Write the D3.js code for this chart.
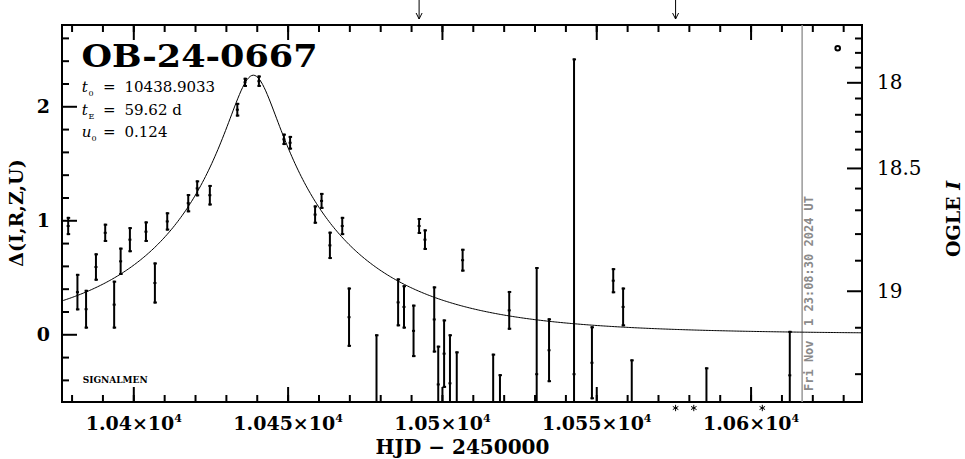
<!DOCTYPE html>
<html><head><meta charset="utf-8">
<script src="https://cdn.jsdelivr.net/npm/d3@7"></script>
<style>body{margin:0;background:#fff}svg{display:block}</style>
</head><body><svg id="c" width="965" height="459"></svg>
<script>
// ---- data ----
const hjd = [10378.9,10381.9,10384.7,10387.9,10390.9,10393.8,10395.9,10398.9,10404.1,10407.0,
  10411.0,10417.8,10420.7,10424.8,10433.7,10436.2,10440.7,10448.8,10450.8,10458.9,
  10461.0,10463.7,10467.7,10469.9,10478.8,10485.8,10487.7,10490.8,10492.6,10494.5,
  10497.5,10498.8,10500.7,10502.6,10504.8,10506.7,10516.6,10518.8,10521.8,10530.7,
  10534.7,10542.8,10548.6,10555.5,10558.7,10561.5,10585.7,10612.7];
const delta = [0.95,0.37,0.22,0.59,0.89,0.26,0.64,0.83,0.90,0.45,
  0.99,1.15,1.28,1.22,1.97,2.21,2.22,1.71,1.68,1.05,
  1.17,0.78,0.95,0.15,-0.70,0.28,0.24,0.03,0.95,0.83,
  0.13,-0.44,-0.17,-0.43,-0.60,0.65,-0.70,-0.75,0.21,-0.35,
  -0.14,-0.35,-0.25,0.47,0.24,-0.60,-0.65,-0.36];
const err = [0.08,0.16,0.17,0.12,0.08,0.21,0.12,0.11,0.09,0.18,
  0.08,0.08,0.07,0.09,0.06,0.04,0.05,0.05,0.06,0.08,
  0.07,0.12,0.08,0.26,0.70,0.21,0.19,0.23,0.07,0.09,
  0.29,0.34,0.30,0.43,0.45,0.10,0.53,0.40,0.17,0.94,
  0.28,2.77,0.32,0.11,0.17,0.38,0.36,0.39];
const starMarks = [10575.7, 10581.6, 10603.8];
const arrowMarks = [10492.6, 10575.7];
const nowHJD = 10616.7;
const xMajor = [10400, 10450, 10500, 10550, 10600];
const xMinor = d3.range(10380, 10640, 10);
const yMajor = [0, 1, 2];
const yMinor = [-0.4,-0.2,0.2,0.4,0.6,0.8,1.2,1.4,1.6,1.8,2.2,2.4,2.6];
const magMajor = [18, 18.5, 19];
const magMinor = [17.7,17.8,17.9,18.1,18.2,18.3,18.4,18.6,18.7,18.8,18.9,19.1,19.2];
const t0 = 10438.9033, tE = 59.62, u0 = 0.124;
const baseMag = 19.117, srcFrac = 0.27;
const stamp = "Fri Nov  1 23:08:30 2024 UT";

// ---- scales ----
const L = 62, R = 862, T = 25, B = 402;
const x = d3.scaleLinear().domain([10376.9, 10636.1]).range([L, R]);
const y = d3.scaleLinear().domain([-0.594, 2.713]).range([B, T]);
function magToDelta(m){
  const r = Math.pow(10, -0.4*(m - baseMag));
  return 2.5*Math.log10((r - (1 - srcFrac))/srcFrac);
}
const ymag = m => y(magToDelta(m));
ymag.copy = () => ymag;
ymag.range = () => y.range();

const svg = d3.select("#c");
const serif = "DejaVu Serif";
svg.append("defs").append("clipPath").attr("id","clip")
  .append("rect").attr("x",L).attr("y",T).attr("width",R-L).attr("height",B-T);

function styleAxis(g){
  g.select(".domain").remove();
  g.selectAll(".tick line").attr("stroke","#000").attr("stroke-width",2);
}
// bottom
svg.append("g").attr("transform",`translate(0,${B})`)
  .call(d3.axisBottom(x).tickValues(xMinor).tickSize(-7).tickFormat("")).call(styleAxis);
const xb = svg.append("g").attr("transform",`translate(0,${B})`)
  .call(d3.axisBottom(x).tickValues(xMajor).tickSize(-15).tickPadding(0)).call(styleAxis);
xb.selectAll(".tick text").each(function(d){
  const t = d3.select(this);
  t.text(null).attr("y",28).attr("dy",0).attr("font-family",serif).attr("font-weight","bold")
    .attr("font-size",19).attr("fill","#000");
  t.append("tspan").text((d/1e4) + "×10");
  t.append("tspan").text("4").attr("font-size",11).attr("dy",-8);
});
// top
svg.append("g").attr("transform",`translate(0,${T})`)
  .call(d3.axisTop(x).tickValues(xMinor).tickSize(-7).tickFormat("")).call(styleAxis);
svg.append("g").attr("transform",`translate(0,${T})`)
  .call(d3.axisTop(x).tickValues(xMajor).tickSize(-15).tickFormat("")).call(styleAxis);
// left
svg.append("g").attr("transform",`translate(${L},0)`)
  .call(d3.axisLeft(y).tickValues(yMinor).tickSize(-7).tickFormat("")).call(styleAxis);
const yl = svg.append("g").attr("transform",`translate(${L},0)`)
  .call(d3.axisLeft(y).tickValues(yMajor).tickSize(-15).tickPadding(12).tickFormat(d3.format("d"))).call(styleAxis);
yl.selectAll(".tick text").attr("font-family",serif).attr("font-weight","bold").attr("font-size",19).attr("fill","#000");
// right (magnitude)
svg.append("g").attr("transform",`translate(${R},0)`)
  .call(d3.axisRight(ymag).tickValues(magMinor).tickSize(-7).tickFormat("")).call(styleAxis);
const yr = svg.append("g").attr("transform",`translate(${R},0)`)
  .call(d3.axisRight(ymag).tickValues(magMajor).tickSize(-15).tickPadding(15).tickFormat(d => String(d))).call(styleAxis);
yr.selectAll(".tick text").attr("font-family",serif).attr("font-size",20).attr("fill","#000");

// frame
svg.append("rect").attr("x",L).attr("y",T).attr("width",R-L).attr("height",B-T)
  .attr("fill","none").attr("stroke","#000").attr("stroke-width",2);

// timestamp line
svg.append("line").attr("x1",x(nowHJD)).attr("x2",x(nowHJD)).attr("y1",T).attr("y2",B)
  .attr("stroke","#999").attr("stroke-width",1.5);
svg.append("text").attr("transform",`translate(${x(nowHJD)+11.2},391) rotate(-90)`)
  .attr("font-family","DejaVu Sans Mono").attr("font-weight","bold").attr("font-size",12)
  .attr("fill","#8a8a8a").attr("xml:space","preserve").style("white-space","pre").text(stamp);

// model curve
const tt = d3.range(10376.9, 10636.2, 0.5);
function magn(t){ const tau=(t-t0)/tE; const u=Math.sqrt(u0*u0+tau*tau); return (u*u+2)/(u*Math.sqrt(u*u+4)); }
const plot = svg.append("g").attr("clip-path","url(#clip)");
plot.append("path").datum(tt)
  .attr("d", d3.line().x(t => x(t)).y(t => y(2.5*Math.log10(magn(t)))))
  .attr("fill","none").attr("stroke","#000").attr("stroke-width",1);

// error bars
const idx = d3.range(hjd.length);
const eb = plot.selectAll("g.eb").data(idx).join("g").attr("class","eb");
eb.append("line").attr("x1",i=>x(hjd[i])).attr("x2",i=>x(hjd[i]))
  .attr("y1",i=>y(delta[i]+err[i])).attr("y2",i=>y(delta[i]-err[i]))
  .attr("stroke","#000").attr("stroke-width",2);
eb.append("line").attr("x1",i=>x(hjd[i])-1.5).attr("x2",i=>x(hjd[i])+2)
  .attr("y1",i=>y(delta[i]+err[i])+1).attr("y2",i=>y(delta[i]+err[i])+1)
  .attr("stroke","#000").attr("stroke-width",2);
eb.append("line").attr("x1",i=>x(hjd[i])-1.5).attr("x2",i=>x(hjd[i])+2)
  .attr("y1",i=>y(delta[i]-err[i])-1).attr("y2",i=>y(delta[i]-err[i])-1)
  .attr("stroke","#000").attr("stroke-width",2);
eb.append("rect").attr("x",i=>x(hjd[i])-1.5).attr("y",i=>y(delta[i])-1)
  .attr("width",3).attr("height",2).attr("fill","#000");

// asterisks below axis
svg.selectAll("path.star").data(starMarks).join("path").attr("class","star")
  .attr("d", d3.symbol(d3.symbolAsterisk, 28))
  .attr("transform", d => `translate(${x(d)},408)`)
  .attr("fill","none").attr("stroke","#000").attr("stroke-width",1);

// arrows on top
const ar = svg.selectAll("g.arrow").data(arrowMarks).join("g").attr("class","arrow");
ar.append("line").attr("x1",d=>x(d)).attr("x2",d=>x(d)).attr("y1",0).attr("y2",19)
  .attr("stroke","#000").attr("stroke-width",1);
ar.append("path").attr("d",d=>`M${x(d)-3},13L${x(d)},19L${x(d)+3},13`)
  .attr("fill","none").attr("stroke","#000").attr("stroke-width",1);

// small circle marker
svg.append("circle").attr("cx",837.7).attr("cy",48.3).attr("r",2.3)
  .attr("fill","none").attr("stroke","#000").attr("stroke-width",2);

// titles
svg.append("text").attr("x",81.5).attr("y",66.7).attr("font-family",serif).attr("font-weight","bold")
  .attr("font-size",32).attr("textLength",236).attr("lengthAdjust","spacingAndGlyphs").text("OB-24-0667");
const params = [["t","0","10438.9033",91.7,88.5],["t","E","59.62 d",115,88.5],["u","0","0.124",136.7,91.5]];
params.forEach(p => {
  const t = svg.append("text").attr("y",p[3]).attr("font-family",serif)
    .attr("font-size",15).attr("fill","#000");
  t.append("tspan").attr("x",81.7).attr("font-style","italic").text(p[0]);
  t.append("tspan").attr("x",p[4]).attr("font-size",8).attr("dy",4).text(p[1]);
  t.append("tspan").attr("x",103).attr("dy",-4).text("=");
  t.append("tspan").attr("x",124.5).text(p[2]);
});
svg.append("text").attr("x",82.7).attr("y",383.3).attr("font-family",serif).attr("font-weight","bold")
  .attr("font-size",9).text("SIGNALMEN");
svg.append("text").attr("x",462.5).attr("y",454).attr("text-anchor","middle")
  .attr("font-family",serif).attr("font-weight","bold").attr("font-size",20).text("HJD − 2450000");
svg.append("text").attr("transform","translate(23,213) rotate(-90)").attr("text-anchor","middle")
  .attr("font-family",serif).attr("font-weight","bold").attr("font-size",19).text("Δ(I,R,Z,U)");
const og = svg.append("text").attr("transform","translate(960,219) rotate(-90)").attr("text-anchor","middle")
  .attr("font-family",serif).attr("font-weight","bold").attr("font-size",19);
og.append("tspan").text("OGLE ");
og.append("tspan").attr("font-style","italic").text("I");
</script></body></html>
